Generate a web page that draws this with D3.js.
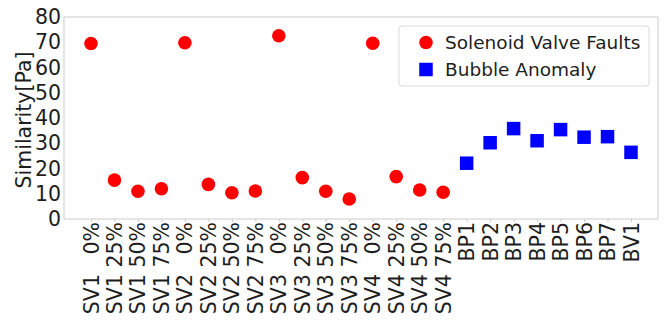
<!DOCTYPE html>
<html>
<head>
<meta charset="utf-8">
<script src="https://cdn.jsdelivr.net/npm/d3@7"></script>
<style>
  body { margin: 0; background: #fff; }
  svg { font-family: "DejaVu Sans", sans-serif; }
</style>
</head>
<body>
<svg width="672" height="320"></svg>
<script>
// categories and values
const svLabels = ["SV1   0%", "SV1 25%", "SV1 50%", "SV1 75%",
                  "SV2   0%", "SV2 25%", "SV2 50%", "SV2 75%",
                  "SV3   0%", "SV3 25%", "SV3 50%", "SV3 75%",
                  "SV4   0%", "SV4 25%", "SV4 50%", "SV4 75%"];
const svValues = [69.5, 15.4, 11.0, 12.0,
                  69.8, 13.7, 10.4, 11.1,
                  72.6, 16.4, 11.0, 7.9,
                  69.6, 16.8, 11.5, 10.6];
const bpLabels = ["BP1", "BP2", "BP3", "BP4", "BP5", "BP6", "BP7", "BV1"];
const bpValues = [22.1, 30.2, 35.8, 31.0, 35.4, 32.4, 32.6, 26.4];
const yTicks = [0, 10, 20, 30, 40, 50, 60, 70, 80];
const seriesNames = ["Solenoid Valve Faults", "Bubble Anomaly"];

const allLabels = svLabels.concat(bpLabels);
const svData = svLabels.map((l, i) => ({ label: l, value: svValues[i] }));
const bpData = bpLabels.map((l, i) => ({ label: l, value: bpValues[i] }));

const svg = d3.select("svg");
const m = { left: 64, right: 14, top: 17, bottom: 101 };
const W = 672, H = 320;
const textCol = "#1e1e1e";

// matplotlib-like 5% margins on the index axis
const n = allLabels.length;
const xi = d3.scaleLinear()
    .domain([-0.05 * (n - 1), (n - 1) * 1.05])
    .range([m.left, W - m.right]);
const x = l => xi(allLabels.indexOf(l));
const y = d3.scaleLinear().domain([0, 80]).range([H - m.bottom, m.top]);

// frame
svg.append("rect")
    .attr("x", m.left).attr("y", m.top)
    .attr("width", W - m.left - m.right).attr("height", H - m.top - m.bottom)
    .attr("fill", "none").attr("stroke", "#cccccc").attr("stroke-width", 1);

// y axis
const yAxis = svg.append("g")
    .attr("transform", `translate(${m.left},0)`)
    .call(d3.axisLeft(y).tickValues(yTicks).tickSize(0).tickPadding(3));
yAxis.select(".domain").remove();
yAxis.selectAll("text")
    .attr("font-size", 20.5).attr("fill", textCol)
    .attr("font-family", "DejaVu Sans");

// x axis
const xAxis = svg.append("g")
    .attr("transform", `translate(0,${H - m.bottom})`)
    .call(d3.axisBottom(d3.scalePoint().domain(allLabels).range([x(allLabels[0]), x(allLabels[n - 1])]))
        .tickSize(3).tickPadding(3));
xAxis.select(".domain").remove();
xAxis.selectAll("line").attr("stroke", "#cccccc");
xAxis.selectAll("text")
    .attr("font-size", 20.5).attr("fill", textCol)
    .attr("font-family", "DejaVu Sans")
    .style("white-space", "pre")
    .attr("text-anchor", "end")
    .attr("dy", null)
    .attr("dominant-baseline", "central")
    .attr("transform", "translate(0,3) rotate(-90)")
    .attr("x", 0).attr("y", 0);

// y label
svg.append("text")
    .attr("transform", `translate(24,${(m.top + H - m.bottom) / 2 + 2}) rotate(-90)`)
    .attr("text-anchor", "middle")
    .attr("dominant-baseline", "central")
    .attr("font-size", 20.5).attr("fill", textCol)
    .text("Similarity[Pa]");

// points
svg.append("g").selectAll("circle")
    .data(svData).join("circle")
    .attr("cx", d => x(d.label)).attr("cy", d => y(d.value))
    .attr("r", 6.8).attr("fill", "#ff0000");

const s = 13.5;
svg.append("g").selectAll("rect")
    .data(bpData).join("rect")
    .attr("x", d => x(d.label) - s / 2).attr("y", d => y(d.value) - s / 2)
    .attr("width", s).attr("height", s).attr("fill", "#0000ff");

// legend
const lg = svg.append("g").attr("transform", "translate(399,26)");
lg.append("rect")
    .attr("width", 250).attr("height", 60).attr("rx", 3)
    .attr("fill", "#fff").attr("fill-opacity", 0.8)
    .attr("stroke", "#d9d9d9");
lg.append("circle").attr("cx", 27).attr("cy", 16.5).attr("r", 6.8).attr("fill", "#ff0000");
lg.append("rect").attr("x", 27 - s / 2).attr("y", 43.5 - s / 2)
    .attr("width", s).attr("height", s).attr("fill", "#0000ff");
lg.selectAll("text.lab")
    .data(seriesNames).join("text")
    .attr("class", "lab")
    .attr("x", 46).attr("y", (d, i) => 16.5 + i * 27)
    .attr("dominant-baseline", "central")
    .attr("font-size", 18.5).attr("fill", textCol)
    .text(d => d);
</script>
</body>
</html>
